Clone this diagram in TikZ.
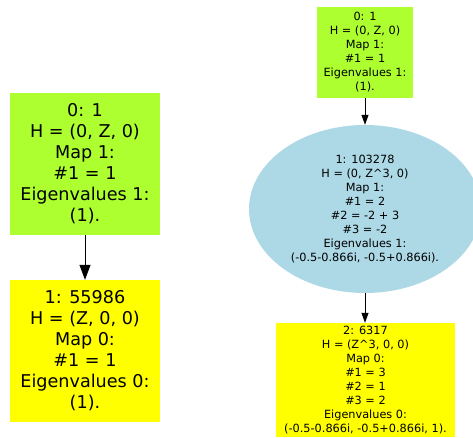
\documentclass[tikz,border=0pt]{standalone}
\usepackage{fontspec}
\setmainfont{DejaVu Sans}
\usetikzlibrary{arrows.meta,shapes.geometric}
\definecolor{gy}{HTML}{ADFF2F}
\definecolor{yl}{HTML}{FFFF00}
\definecolor{lb}{HTML}{ADD8E6}
\tikzset{
  big/.style={rectangle, align=center, inner sep=0pt, minimum width=150pt, minimum height=142pt, font=\fontsize{17.6}{21}\selectfont},
  small/.style={align=center, inner sep=0pt, font=\fontsize{11.3}{14}\selectfont},
  bigarrow/.style={draw, line width=1pt, -{Triangle[length=15pt,width=11pt]}},
  smallarrow/.style={draw, line width=0.8pt, -{Triangle[length=10pt,width=7pt]}}
}
\begin{document}
\begin{tikzpicture}[x=1pt,y=-1pt]
\useasboundingbox (0,0) rectangle (473,438);
\node[big, fill=gy] (a0) at (85,164) {0: 1\\H = (0, Z, 0)\\Map 1:\\\#1 = 1\\Eigenvalues 1:\\(1).};
\node[big, fill=yl] (a1) at (85,351) {1: 55986\\H = (Z, 0, 0)\\Map 0:\\\#1 = 1\\Eigenvalues 0:\\(1).};
\draw[bigarrow] (a0.south) -- (a1.north);
\node[small, rectangle, fill=gy, minimum width=96pt, minimum height=91pt] (b0) at (365,52.5) {0: 1\\H = (0, Z, 0)\\Map 1:\\\#1 = 1\\Eigenvalues 1:\\(1).};
\node[small, ellipse, fill=lb, minimum width=232pt, minimum height=168pt] (b1) at (365,209) {1: 103278\\H = (0, Z\^{}3, 0)\\Map 1:\\\#1 = 2\\\#2 = -2 + 3\\\#3 = -2\\Eigenvalues 1:\\(-0.5-0.866i, -0.5+0.866i).};
\node[small, rectangle, fill=yl, minimum width=179pt, minimum height=114pt] (b2) at (365.5,380) {2: 6317\\H = (Z\^{}3, 0, 0)\\Map 0:\\\#1 = 3\\\#2 = 1\\\#3 = 2\\Eigenvalues 0:\\(-0.5-0.866i, -0.5+0.866i, 1).};
\draw[smallarrow] (b0.south) -- (b1.north);
\draw[smallarrow] (b1.south) -- (b1.south |- b2.north);
\end{tikzpicture}
\end{document}
